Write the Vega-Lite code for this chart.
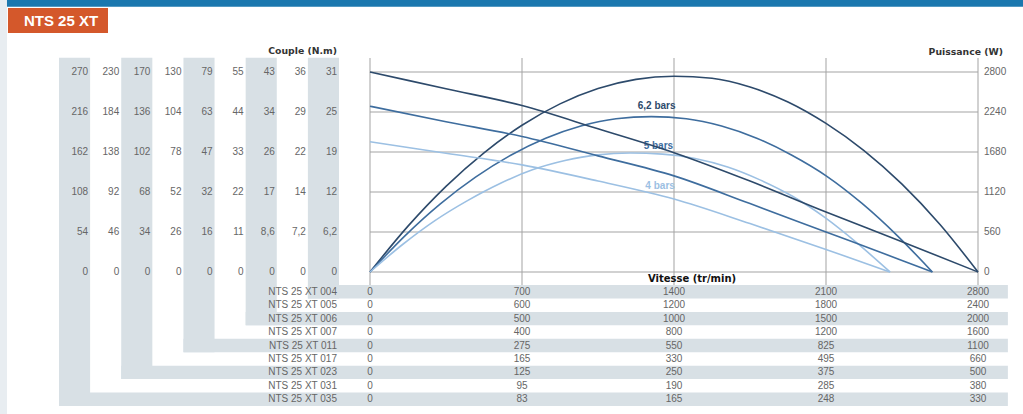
{
  "$schema": "https://vega.github.io/schema/vega-lite/v6.json",
  "width": 1023,
  "height": 414,
  "padding": 0,
  "autosize": {"type": "none"},
  "background": "#ffffff",
  "config": {
    "view": {"stroke": null},
    "locale": {"number": {"decimal": ",", "thousands": "\u00a0", "grouping": [3], "currency": ["", " €"]}}
  },
  "datasets": {
    "models": [
      {"model": "NTS 25 XT 004", "row": 1, "col": 9, "n0": 0, "n25": 700, "n50": 1400, "n75": 2100, "n100": 2800, "c0": 0, "c20": 6.2, "c40": 12, "c60": 19, "c80": 25, "c100": 31},
      {"model": "NTS 25 XT 005", "row": 2, "col": 8, "n0": 0, "n25": 600, "n50": 1200, "n75": 1800, "n100": 2400, "c0": 0, "c20": 7.2, "c40": 14, "c60": 22, "c80": 29, "c100": 36},
      {"model": "NTS 25 XT 006", "row": 3, "col": 7, "n0": 0, "n25": 500, "n50": 1000, "n75": 1500, "n100": 2000, "c0": 0, "c20": 8.6, "c40": 17, "c60": 26, "c80": 34, "c100": 43},
      {"model": "NTS 25 XT 007", "row": 4, "col": 6, "n0": 0, "n25": 400, "n50": 800, "n75": 1200, "n100": 1600, "c0": 0, "c20": 11, "c40": 22, "c60": 33, "c80": 44, "c100": 55},
      {"model": "NTS 25 XT 011", "row": 5, "col": 5, "n0": 0, "n25": 275, "n50": 550, "n75": 825, "n100": 1100, "c0": 0, "c20": 16, "c40": 32, "c60": 47, "c80": 63, "c100": 79},
      {"model": "NTS 25 XT 017", "row": 6, "col": 4, "n0": 0, "n25": 165, "n50": 330, "n75": 495, "n100": 660, "c0": 0, "c20": 26, "c40": 52, "c60": 78, "c80": 104, "c100": 130},
      {"model": "NTS 25 XT 023", "row": 7, "col": 3, "n0": 0, "n25": 125, "n50": 250, "n75": 375, "n100": 500, "c0": 0, "c20": 34, "c40": 68, "c60": 102, "c80": 136, "c100": 170},
      {"model": "NTS 25 XT 031", "row": 8, "col": 2, "n0": 0, "n25": 95, "n50": 190, "n75": 285, "n100": 380, "c0": 0, "c20": 46, "c40": 92, "c60": 138, "c80": 184, "c100": 230},
      {"model": "NTS 25 XT 035", "row": 9, "col": 1, "n0": 0, "n25": 83, "n50": 165, "n75": 248, "n100": 330, "c0": 0, "c20": 54, "c40": 108, "c60": 162, "c80": 216, "c100": 270}
    ],
    "power": [
      {"series": "6,2 bars", "speed": 0, "power": 0},
      {"series": "6,2 bars", "speed": 175, "power": 642},
      {"series": "6,2 bars", "speed": 350, "power": 1199},
      {"series": "6,2 bars", "speed": 525, "power": 1669},
      {"series": "6,2 bars", "speed": 700, "power": 2055},
      {"series": "6,2 bars", "speed": 875, "power": 2354},
      {"series": "6,2 bars", "speed": 1050, "power": 2569},
      {"series": "6,2 bars", "speed": 1225, "power": 2697},
      {"series": "6,2 bars", "speed": 1400, "power": 2740},
      {"series": "6,2 bars", "speed": 1575, "power": 2712},
      {"series": "6,2 bars", "speed": 1750, "power": 2590},
      {"series": "6,2 bars", "speed": 1925, "power": 2380},
      {"series": "6,2 bars", "speed": 2100, "power": 2080},
      {"series": "6,2 bars", "speed": 2275, "power": 1700},
      {"series": "6,2 bars", "speed": 2450, "power": 1230},
      {"series": "6,2 bars", "speed": 2625, "power": 665},
      {"series": "6,2 bars", "speed": 2800, "power": 0},
      {"series": "5 bars", "speed": 0, "power": 0},
      {"series": "5 bars", "speed": 162, "power": 510},
      {"series": "5 bars", "speed": 324, "power": 954},
      {"series": "5 bars", "speed": 486, "power": 1328},
      {"series": "5 bars", "speed": 648, "power": 1635},
      {"series": "5 bars", "speed": 809, "power": 1873},
      {"series": "5 bars", "speed": 971, "power": 2044},
      {"series": "5 bars", "speed": 1133, "power": 2146},
      {"series": "5 bars", "speed": 1295, "power": 2175},
      {"series": "5 bars", "speed": 1457, "power": 2146},
      {"series": "5 bars", "speed": 1619, "power": 2044},
      {"series": "5 bars", "speed": 1781, "power": 1873},
      {"series": "5 bars", "speed": 1943, "power": 1635},
      {"series": "5 bars", "speed": 2104, "power": 1340},
      {"series": "5 bars", "speed": 2266, "power": 960},
      {"series": "5 bars", "speed": 2428, "power": 510},
      {"series": "5 bars", "speed": 2590, "power": 0},
      {"series": "4 bars", "speed": 0, "power": 0},
      {"series": "4 bars", "speed": 150, "power": 385},
      {"series": "4 bars", "speed": 299, "power": 720},
      {"series": "4 bars", "speed": 449, "power": 1000},
      {"series": "4 bars", "speed": 599, "power": 1240},
      {"series": "4 bars", "speed": 748, "power": 1430},
      {"series": "4 bars", "speed": 898, "power": 1560},
      {"series": "4 bars", "speed": 1048, "power": 1640},
      {"series": "4 bars", "speed": 1198, "power": 1665},
      {"series": "4 bars", "speed": 1347, "power": 1650},
      {"series": "4 bars", "speed": 1497, "power": 1590},
      {"series": "4 bars", "speed": 1647, "power": 1470},
      {"series": "4 bars", "speed": 1796, "power": 1290},
      {"series": "4 bars", "speed": 1946, "power": 1060},
      {"series": "4 bars", "speed": 2096, "power": 760},
      {"series": "4 bars", "speed": 2245, "power": 400},
      {"series": "4 bars", "speed": 2395, "power": 0}
    ],
    "torque": [
      {"series": "6,2 bars", "speed": 0, "torque": 31.0},
      {"series": "6,2 bars", "speed": 350, "torque": 28.4},
      {"series": "6,2 bars", "speed": 700, "torque": 25.8},
      {"series": "6,2 bars", "speed": 1050, "torque": 22.2},
      {"series": "6,2 bars", "speed": 1400, "torque": 18.5},
      {"series": "6,2 bars", "speed": 1750, "torque": 14.1},
      {"series": "6,2 bars", "speed": 2100, "torque": 9.3},
      {"series": "6,2 bars", "speed": 2450, "torque": 4.7},
      {"series": "6,2 bars", "speed": 2800, "torque": 0},
      {"series": "5 bars", "speed": 0, "torque": 25.7},
      {"series": "5 bars", "speed": 350, "torque": 23.3},
      {"series": "5 bars", "speed": 700, "torque": 21.0},
      {"series": "5 bars", "speed": 1050, "torque": 18.0},
      {"series": "5 bars", "speed": 1400, "torque": 14.9},
      {"series": "5 bars", "speed": 1750, "torque": 10.6},
      {"series": "5 bars", "speed": 2100, "torque": 6.2},
      {"series": "5 bars", "speed": 2450, "torque": 1.8},
      {"series": "5 bars", "speed": 2590, "torque": 0},
      {"series": "4 bars", "speed": 0, "torque": 20.2},
      {"series": "4 bars", "speed": 350, "torque": 18.4},
      {"series": "4 bars", "speed": 700, "torque": 16.6},
      {"series": "4 bars", "speed": 1050, "torque": 14.1},
      {"series": "4 bars", "speed": 1400, "torque": 11.3},
      {"series": "4 bars", "speed": 1750, "torque": 7.5},
      {"series": "4 bars", "speed": 2100, "torque": 3.5},
      {"series": "4 bars", "speed": 2395, "torque": 0}
    ],
    "curveLabels": [
      {"series": "6,2 bars", "speed": 1320, "power": 2320},
      {"series": "5 bars", "speed": 1328, "power": 1760},
      {"series": "4 bars", "speed": 1336, "power": 1204}
    ],
    "powerLevels": [{"p": 0}, {"p": 560}, {"p": 1120}, {"p": 1680}, {"p": 2240}, {"p": 2800}],
    "speedLevels": [{"s": 0}, {"s": 700}, {"s": 1400}, {"s": 2100}, {"s": 2800}],
    "axisTitles": [{"speedTitle": "Vitesse (tr/min)", "powerTitle": "Puissance (W)"}]
  },
  "resolve": {"scale": {"x": "independent", "y": "independent"}},
  "layer": [
    {
      "data": {"values": [{"title": "NTS 25 XT", "heading": "Couple (N.m)"}]},
      "layer": [
        {
          "mark": {"type": "rect", "color": "#e8edf1"},
          "encoding": {
            "x": {"datum": -1.9, "type": "quantitative", "scale": {"type": "linear", "domain": [0, 9], "range": [59, 339], "nice": false, "zero": false}, "axis": null},
            "x2": {"datum": -1.672},
            "y": {"datum": -21.3, "type": "quantitative", "scale": {"type": "linear", "domain": [0, 9], "range": [285, 406], "nice": false, "zero": false}, "axis": null},
            "y2": {"datum": 9.7}
          }
        },
        {
          "mark": {"type": "rect", "color": "#1b77ae"},
          "encoding": {
            "x": {"datum": -1.672, "type": "quantitative", "scale": {"type": "linear", "domain": [0, 9], "range": [59, 339], "nice": false, "zero": false}, "axis": null},
            "x2": {"datum": 31.0},
            "y": {"datum": -21.3, "type": "quantitative", "scale": {"type": "linear", "domain": [0, 9], "range": [285, 406], "nice": false, "zero": false}, "axis": null},
            "y2": {"datum": -20.69}
          }
        },
        {
          "mark": {"type": "rect", "color": "#d4582b"},
          "encoding": {
            "x": {"datum": -1.64, "type": "quantitative", "scale": {"type": "linear", "domain": [0, 9], "range": [59, 339], "nice": false, "zero": false}, "axis": null},
            "x2": {"datum": 1.575},
            "y": {"datum": -20.61, "type": "quantitative", "scale": {"type": "linear", "domain": [0, 9], "range": [285, 406], "nice": false, "zero": false}, "axis": null},
            "y2": {"datum": -18.75}
          }
        },
        {
          "mark": {"type": "text", "color": "#ffffff", "font": "Liberation Sans", "fontWeight": "bold", "fontSize": 15, "align": "center", "baseline": "middle"},
          "encoding": {
            "x": {"datum": 0.064, "type": "quantitative", "scale": {"type": "linear", "domain": [0, 9], "range": [59, 339], "nice": false, "zero": false}, "axis": null},
            "y": {"datum": -19.66, "type": "quantitative", "scale": {"type": "linear", "domain": [0, 9], "range": [285, 406], "nice": false, "zero": false}, "axis": null},
            "text": {"field": "title", "type": "nominal"}
          }
        },
        {
          "mark": {"type": "text", "align": "right", "baseline": "middle", "dx": -2, "font": "DejaVu Sans", "fontWeight": "bold", "fontSize": 9.3, "color": "#333333"},
          "encoding": {
            "x": {"datum": 9, "type": "quantitative", "scale": {"type": "linear", "domain": [0, 9], "range": [59, 339], "nice": false, "zero": false}, "axis": null},
            "y": {"datum": -17.37, "type": "quantitative", "scale": {"type": "linear", "domain": [0, 9], "range": [285, 406], "nice": false, "zero": false}, "axis": null},
            "text": {"field": "heading", "type": "nominal"}
          }
        }
      ]
    },
    {
      "data": {"name": "models"},
      "layer": [
        {
          "transform": [{"filter": "datum.row % 2 == 1"}],
          "mark": {"type": "rect", "color": "#d8e0e5", "xOffset": -31.11},
          "encoding": {
            "x": {"field": "col", "type": "quantitative", "scale": {"type": "linear", "domain": [0, 9], "range": [59, 339], "nice": false, "zero": false}, "axis": null},
            "x2": {"field": "col"},
            "y": {"field": "row", "type": "quantitative", "scale": {"type": "linear", "domain": [0, 9], "range": [285, 406], "nice": false, "zero": false}, "axis": null},
            "y2": {"datum": -16.9}
          }
        },
        {
          "transform": [{"filter": "datum.row % 2 == 1"}],
          "mark": {"type": "rect", "color": "#d8e0e5", "xOffset": -31.11, "yOffset": -13.44},
          "encoding": {
            "x": {"field": "col", "type": "quantitative", "scale": {"type": "linear", "domain": [0, 9], "range": [59, 339], "nice": false, "zero": false}, "axis": null},
            "x2": {"datum": 30.5},
            "y": {"field": "row", "type": "quantitative", "scale": {"type": "linear", "domain": [0, 9], "range": [285, 406], "nice": false, "zero": false}, "axis": null},
            "y2": {"field": "row"}
          }
        },
        {
          "mark": {"type": "text", "align": "right", "baseline": "middle", "dx": -2, "dy": -6.7, "font": "Liberation Sans", "fontSize": 10, "color": "#666666"},
          "encoding": {
            "x": {"datum": 9, "type": "quantitative", "scale": {"type": "linear", "domain": [0, 9], "range": [59, 339], "nice": false, "zero": false}, "axis": null},
            "y": {"field": "row", "type": "quantitative", "scale": {"type": "linear", "domain": [0, 9], "range": [285, 406], "nice": false, "zero": false}, "axis": null},
            "text": {"field": "model", "type": "nominal"}
          }
        }
      ]
    },
    {
      "data": {"name": "models"},
      "transform": [{"fold": ["c0", "c20", "c40", "c60", "c80", "c100"], "as": ["level", "torque"]}],
      "mark": {"type": "text", "align": "right", "baseline": "middle", "dx": -2, "font": "Liberation Sans", "fontSize": 10, "color": "#666666"},
      "encoding": {
        "x": {"field": "col", "type": "quantitative", "scale": {"type": "linear", "domain": [0, 9], "range": [59, 339], "nice": false, "zero": false}, "axis": null},
        "y": {"field": "level", "type": "ordinal", "scale": {"type": "point", "domain": ["c0", "c20", "c40", "c60", "c80", "c100"], "range": [272, 72], "padding": 0}, "axis": null},
        "text": {"field": "torque", "type": "quantitative", "format": "~g"}
      }
    },
    {
      "data": {"name": "models"},
      "transform": [{"fold": ["n0", "n25", "n50", "n75", "n100"], "as": ["share", "speed"]}],
      "mark": {"type": "text", "align": "center", "baseline": "middle", "dy": -6.7, "font": "Liberation Sans", "fontSize": 10, "color": "#666666"},
      "encoding": {
        "x": {"field": "share", "type": "ordinal", "scale": {"type": "point", "domain": ["n0", "n25", "n50", "n75", "n100"], "range": [370, 978], "padding": 0}, "axis": null},
        "y": {"field": "row", "type": "quantitative", "scale": {"type": "linear", "domain": [0, 9], "range": [285, 406], "nice": false, "zero": false}, "axis": null},
        "text": {"field": "speed", "type": "quantitative", "format": "~g"}
      }
    },
    {
      "layer": [
        {
          "data": {"name": "powerLevels"},
          "mark": {"type": "rule", "color": "#a3a3a3", "strokeWidth": 1},
          "encoding": {
            "x": {"datum": 0, "type": "quantitative", "scale": {"type": "linear", "domain": [0, 2800], "range": [370, 978], "nice": false, "zero": false}, "axis": null},
            "x2": {"datum": 2800},
            "y": {"field": "p", "type": "quantitative", "scale": {"type": "linear", "domain": [0, 2800], "range": [272, 72], "nice": false, "zero": false}, "axis": null}
          }
        },
        {
          "data": {"name": "speedLevels"},
          "mark": {"type": "rule", "color": "#a3a3a3", "strokeWidth": 1},
          "encoding": {
            "x": {"field": "s", "type": "quantitative", "scale": {"type": "linear", "domain": [0, 2800], "range": [370, 978], "nice": false, "zero": false}, "axis": null},
            "y": {"datum": -182, "type": "quantitative", "scale": {"type": "linear", "domain": [0, 2800], "range": [272, 72], "nice": false, "zero": false}, "axis": null},
            "y2": {"datum": 2996}
          }
        },
        {
          "data": {"name": "powerLevels"},
          "mark": {"type": "text", "align": "left", "baseline": "middle", "dx": 6, "font": "Liberation Sans", "fontSize": 10, "color": "#666666"},
          "encoding": {
            "x": {"datum": 2800, "type": "quantitative", "scale": {"type": "linear", "domain": [0, 2800], "range": [370, 978], "nice": false, "zero": false}, "axis": null},
            "y": {"field": "p", "type": "quantitative", "scale": {"type": "linear", "domain": [0, 2800], "range": [272, 72], "nice": false, "zero": false}, "axis": null},
            "text": {"field": "p", "type": "quantitative", "format": "~g"}
          }
        },
        {
          "data": {"name": "axisTitles"},
          "mark": {"type": "text", "align": "right", "baseline": "middle", "font": "DejaVu Sans", "fontWeight": "bold", "fontSize": 9.3, "color": "#333333"},
          "encoding": {
            "x": {"datum": 2915, "type": "quantitative", "scale": {"type": "linear", "domain": [0, 2800], "range": [370, 978], "nice": false, "zero": false}, "axis": null},
            "y": {"datum": 3087, "type": "quantitative", "scale": {"type": "linear", "domain": [0, 2800], "range": [272, 72], "nice": false, "zero": false}, "axis": null},
            "text": {"field": "powerTitle", "type": "nominal"}
          }
        },
        {
          "data": {"name": "axisTitles"},
          "mark": {"type": "text", "align": "center", "baseline": "middle", "font": "DejaVu Sans", "fontWeight": "bold", "fontSize": 10, "color": "#111111"},
          "encoding": {
            "x": {"datum": 1483, "type": "quantitative", "scale": {"type": "linear", "domain": [0, 2800], "range": [370, 978], "nice": false, "zero": false}, "axis": null},
            "y": {"datum": -98, "type": "quantitative", "scale": {"type": "linear", "domain": [0, 2800], "range": [272, 72], "nice": false, "zero": false}, "axis": null},
            "text": {"field": "speedTitle", "type": "nominal"}
          }
        },
        {
          "data": {"name": "power"},
          "mark": {"type": "line", "strokeWidth": 1.6, "interpolate": "monotone"},
          "encoding": {
            "x": {"field": "speed", "type": "quantitative", "scale": {"type": "linear", "domain": [0, 2800], "range": [370, 978], "nice": false, "zero": false}, "axis": null},
            "y": {"field": "power", "type": "quantitative", "scale": {"type": "linear", "domain": [0, 2800], "range": [272, 72], "nice": false, "zero": false}, "axis": null},
            "color": {"field": "series", "type": "nominal", "scale": {"domain": ["6,2 bars", "5 bars", "4 bars"], "range": ["#2d4a6b", "#3e6d9e", "#9cc0e3"]}, "legend": null}
          }
        },
        {
          "data": {"name": "curveLabels"},
          "mark": {"type": "text", "align": "center", "baseline": "middle", "font": "Liberation Sans", "fontWeight": "bold", "fontSize": 10},
          "encoding": {
            "x": {"field": "speed", "type": "quantitative", "scale": {"type": "linear", "domain": [0, 2800], "range": [370, 978], "nice": false, "zero": false}, "axis": null},
            "y": {"field": "power", "type": "quantitative", "scale": {"type": "linear", "domain": [0, 2800], "range": [272, 72], "nice": false, "zero": false}, "axis": null},
            "text": {"field": "series", "type": "nominal"},
            "color": {"field": "series", "type": "nominal", "scale": {"domain": ["6,2 bars", "5 bars", "4 bars"], "range": ["#2d4a6b", "#3e6d9e", "#9cc0e3"]}, "legend": null}
          }
        }
      ]
    },
    {
      "data": {"name": "torque"},
      "mark": {"type": "line", "strokeWidth": 1.6, "interpolate": "monotone"},
      "encoding": {
        "x": {"field": "speed", "type": "quantitative", "scale": {"type": "linear", "domain": [0, 2800], "range": [370, 978], "nice": false, "zero": false}, "axis": null},
        "y": {"field": "torque", "type": "quantitative", "scale": {"type": "linear", "domain": [0, 31], "range": [272, 72], "nice": false, "zero": false}, "axis": null},
        "color": {"field": "series", "type": "nominal", "scale": {"domain": ["6,2 bars", "5 bars", "4 bars"], "range": ["#2d4a6b", "#3e6d9e", "#9cc0e3"]}, "legend": null}
      }
    }
  ]
}
